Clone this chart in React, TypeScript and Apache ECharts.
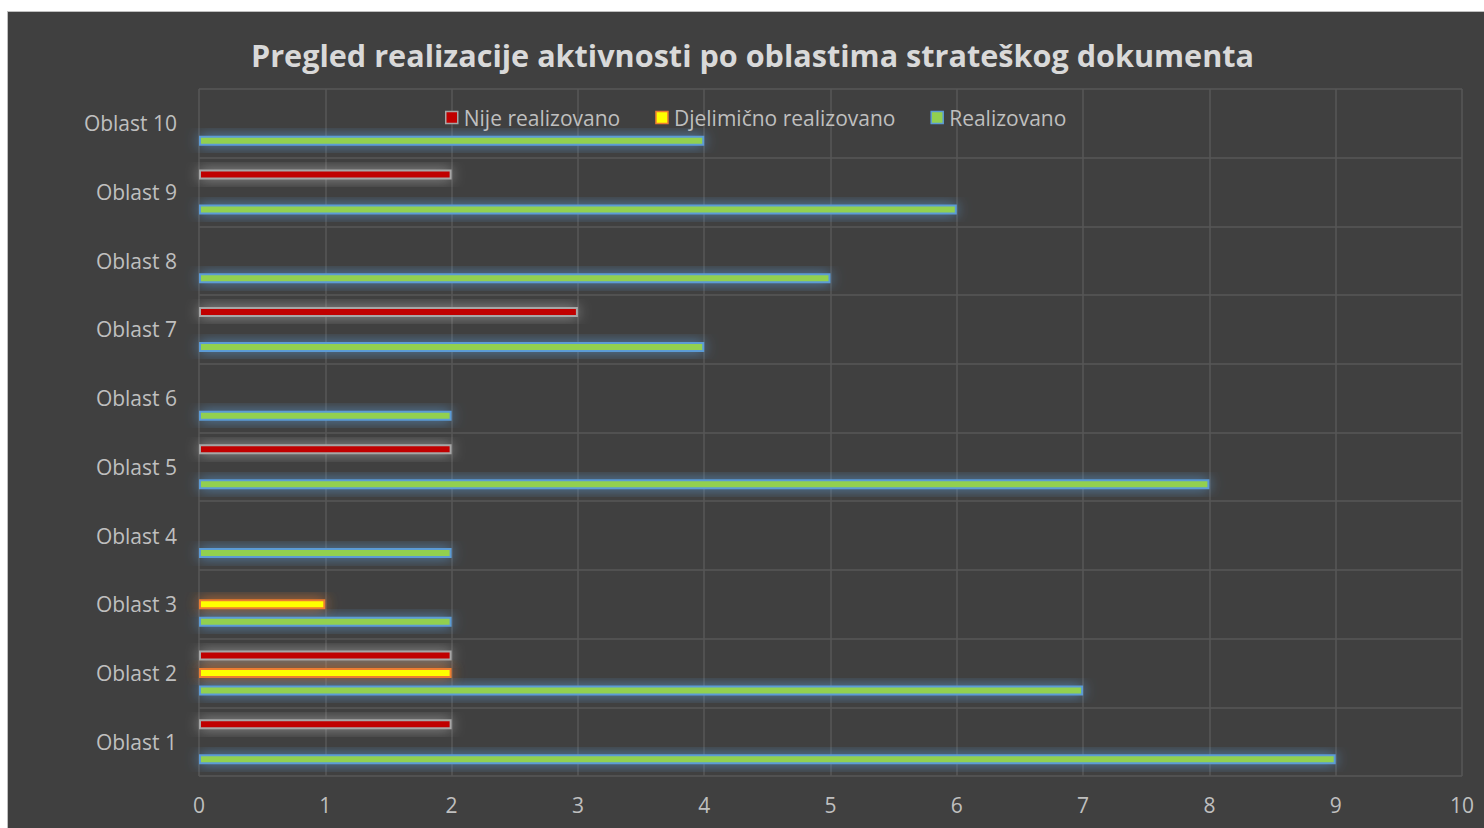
import React, { useEffect, useRef } from "react";
import * as echarts from "echarts";

const categories = [
  "Oblast 1",
  "Oblast 2",
  "Oblast 3",
  "Oblast 4",
  "Oblast 5",
  "Oblast 6",
  "Oblast 7",
  "Oblast 8",
  "Oblast 9",
  "Oblast 10",
];
const nijeRealizovano = [2, 2, 0, 0, 2, 0, 3, 0, 2, 0];
const djelimicnoRealizovano = [0, 2, 1, 0, 0, 0, 0, 0, 0, 0];
const realizovano = [9, 7, 2, 2, 8, 2, 4, 5, 6, 4];
const xTicks = [0, 1, 2, 3, 4, 5, 6, 7, 8, 9, 10];

const TITLE = "Pregled realizacije aktivnosti po oblastima strateškog dokumenta";
const FONT = "'Open Sans', 'Noto Sans', sans-serif";

const styles = {
  nije: { color: "#C00000", borderColor: "#A6A6A6", shadowColor: "rgba(210,210,210,0.6)" },
  djel: { color: "#FFFF00", borderColor: "#ED7D31", shadowColor: "rgba(237,125,49,0.8)" },
  real: { color: "#92D050", borderColor: "#5B9BD5", shadowColor: "rgba(91,155,213,0.8)" },
};

const toBar = (arr: number[]) => arr.map((v) => (v === 0 ? null : v));

export default function App() {
  const ref = useRef<HTMLDivElement>(null);
  useEffect(() => {
    if (!ref.current) return;
    const chart = echarts.init(ref.current, undefined, { renderer: "svg" });
    const mkSeries = (name: string, data: number[], st: any) => ({
      name,
      type: "bar",
      data: toBar(data),
      barWidth: 10,
      barGap: "75%",
      itemStyle: {
        color: st.color,
        borderColor: st.borderColor,
        borderWidth: 2,
        shadowColor: st.shadowColor,
        shadowBlur: 14,
      },
    });
    chart.setOption({
      animation: false,
      backgroundColor: "#404040",
      title: {
        text: TITLE,
        left: 238,
        top: 22,
        textStyle: { color: "#D9D9D9", fontSize: 30.6, fontWeight: "bold", fontFamily: FONT },
      },
      legend: {
        top: 90,
        left: 432,
        itemWidth: 12,
        itemHeight: 12,
        itemGap: 35,
        icon: "rect",
        textStyle: { color: "#BFBFBF", fontSize: 21, fontFamily: FONT, padding: [0, 0, 0, 1] },
        data: [
          { name: "Nije realizovano", itemStyle: { color: styles.nije.color, borderColor: styles.nije.borderColor, borderWidth: 1.5, shadowBlur: 0 } },
          { name: "Djelimično realizovano", itemStyle: { color: styles.djel.color, borderColor: styles.djel.borderColor, borderWidth: 1.5, shadowBlur: 0 } },
          { name: "Realizovano", itemStyle: { color: styles.real.color, borderColor: styles.real.borderColor, borderWidth: 1.5, shadowBlur: 0 } },
        ],
      },
      grid: { left: 191, right: 22, top: 77, bottom: 52, containLabel: false },
      xAxis: {
        type: "value",
        min: xTicks[0],
        max: xTicks[xTicks.length - 1],
        interval: 1,
        axisLine: { show: false },
        axisTick: { show: false },
        axisLabel: { color: "#BFBFBF", fontSize: 21, fontFamily: FONT, margin: 18 },
        splitLine: { show: true, lineStyle: { color: "#575757", width: 1.5 } },
      },
      yAxis: {
        type: "category",
        data: categories,
        axisLine: { show: false },
        axisTick: { show: false },
        axisLabel: { color: "#BFBFBF", fontSize: 21, fontFamily: FONT, margin: 22 },
        splitLine: { show: true, lineStyle: { color: "#575757", width: 1.5 } },
      },
      series: [
        mkSeries("Nije realizovano", nijeRealizovano, styles.nije),
        mkSeries("Djelimično realizovano", djelimicnoRealizovano, styles.djel),
        mkSeries("Realizovano", realizovano, styles.real),
      ],
    });
    return () => chart.dispose();
  }, []);
  return (
    <div
      style={{
        position: "absolute",
        left: 7,
        top: 11,
        width: 1477,
        height: 817,
        borderTop: "1px solid #BFBFBF",
        borderLeft: "1px solid #BFBFBF",
        boxSizing: "border-box",
        background: "#404040",
      }}
    >
      <div ref={ref} style={{ width: "100%", height: "100%" }} />
    </div>
  );
}
